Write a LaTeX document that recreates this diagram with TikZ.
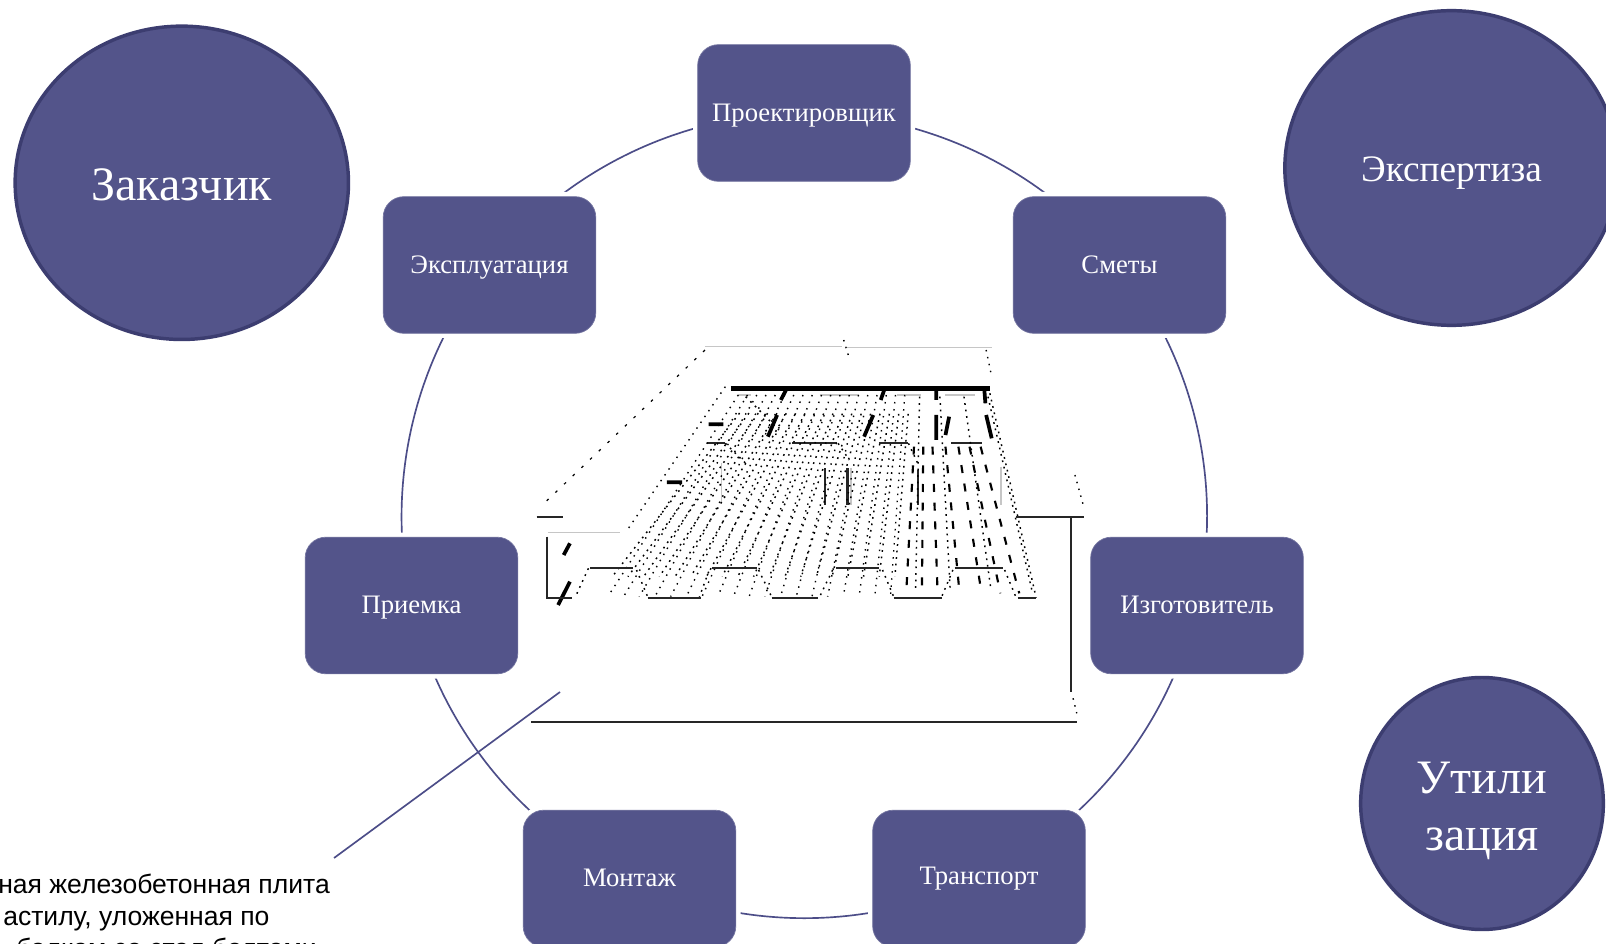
\documentclass[tikz,border=0pt]{standalone}
\usepackage{fontspec}
\setmainfont{Liberation Serif}
\newfontfamily\arialfont{Liberation Sans}
\usetikzlibrary{backgrounds,shapes.geometric}
\definecolor{fillc}{HTML}{53548A}
\definecolor{edgec}{HTML}{3C3D70}
\definecolor{ringc}{HTML}{4C4D88}
\tikzset{
 stagebox/.style={rectangle,rounded corners=15.5pt,fill=fillc,draw=fillc!80!white,line width=.5pt,
   minimum width=159.5pt,minimum height=102.5pt,inner sep=0pt,text=white,font=\fontsize{20}{24}\selectfont,
   text height=16.4pt,text depth=4pt,
   preaction={draw=white,line width=7pt}},
 party/.style={ellipse,fill=fillc,draw=edgec,line width=2.6pt,inner sep=0pt,text=white,align=center},
 ringline/.style={draw=ringc,line width=1.25pt,bend left=25.7,looseness=.895},
 leader/.style={draw=ringc,line width=1.25pt},
 ink/.style={black!85,line width=1.7pt},
 heavy/.style={black,line width=3.4pt},
 pale/.style={gray!45,line width=1pt},
 dotsA/.style={black,line width=1.05pt,dash pattern=on 1.1pt off 4.2pt},
 dotsB/.style={black,line width=1.1pt,dash pattern=on 1.3pt off 3.6pt},
 dotsC/.style={black,line width=1.6pt,dash pattern=on 6pt off 8pt},
 sparse/.style={black,line width=.9pt,dash pattern=on 2pt off 7pt},
 capt/.style={anchor=base west,inner sep=0pt,font=\arialfont\fontsize{19.9}{19.9}\selectfont}
}
\begin{document}
\begin{tikzpicture}[x=.75pt,y=-.75pt]
\useasboundingbox (0,0) rectangle (1606,944);
\begin{pgfonlayer}{background}
\fill[white] (0,0) rectangle (1606,944);
\end{pgfonlayer}
% stages
\node[stagebox] (proj) at (804,113) {Проектировщик};
\node[stagebox] (smet) at (1119.5,265) {Сметы};
\node[stagebox] (izg) at (1197,605.5) {Изготовитель};
\node[stagebox,text depth=7pt] (tran) at (979,878.5) {Транспорт};
\node[stagebox] (mont) at (629.5,878.5) {Монтаж};
\node[stagebox] (prie) at (411.5,605.5) {Приемка};
\node[stagebox] (expl) at (489.5,265) {Эксплуатация};
\begin{pgfonlayer}{background}
\draw[ringline] (proj.center) to (smet.center);
\draw[ringline] (smet.center) to (izg.center);
\draw[ringline] (izg.center) to (tran.center);
\draw[ringline] (tran.center) to (mont.center);
\draw[ringline] (mont.center) to (prie.center);
\draw[ringline] (prie.center) to (expl.center);
\draw[ringline] (expl.center) to (proj.center);
\end{pgfonlayer}
% parties
\node[party,minimum width=250pt,minimum height=235pt,font=\fontsize{36}{42}\selectfont,text height=27pt,text depth=0pt] (zak) at (181.8,182.8) {Заказчик};
\node[party,minimum width=250pt,minimum height=236pt,font=\fontsize{28}{32}\selectfont,text height=27pt,text depth=6pt] (eksp) at (1451.5,168) {Экспертиза};
\node[party,minimum width=182pt,minimum height=189pt,font=\fontsize{36}{43}\selectfont] (util) at (1482,803.5) {\rule{0pt}{35pt}Утили\\зация};
% illustration
\begin{scope}[shift={(520,330)},x=.27747pt,y=-.25pt]
\draw[pale] (500,50)--(870,50) (885,52)--(1275,52) (75,608)--(270,608);
\draw[pale] (545,400)--(545,520) (895,415)--(895,525) (1300,410)--(1300,525);
\draw[pale] (590,195)--(625,195) (810,195)--(915,195) (1020,195)--(1085,195) (1150,195)--(1230,195);
\draw[sparse] (500,60)--(65,520);
\draw[dotsA] (875,30)--(890,85) (1260,60)--(1275,140) (1500,435)--(1525,535) (1495,1105)--(1505,1150);
\draw[dotsA] (555,170)--(290,600);
\draw[heavy] (570,175)--(1270,175);
\draw[black,line width=2.8pt] (720,178)--(705,210) (985,178)--(975,210) (1125,178)--(1125,210) (1255,178)--(1258,220)
 (695,255)--(670,320) (955,255)--(930,320) (1125,255)--(1125,330) (1160,260)--(1150,315) (1260,255)--(1275,325)
 (510,283)--(550,283) (397,457)--(438,457) (135,640)--(118,675) (135,755)--(103,825);
\draw[ink] (505,340)--(555,340) (735,340)--(858,340) (970,340)--(1050,340) (1165,340)--(1250,340);
\draw[ink] (825,415)--(825,525) (885,415)--(885,525) (1075,420)--(1075,525);
% ribs
\foreach \t in {590,615,640,665,690,715,740,765,790,815,840,865,890,915,940,965,990,1015,1040}{
  \pgfmathsetmacro\bx{\t+610*(.2-(1270-\t)*.00114)}
  \draw[dotsA] (\t,195)--(\bx,800);
  \pgfmathsetmacro\bxx{\bx+12}
  \draw[dotsB,dash phase=2pt] (\t+10,240)--(\bxx,740);
}
\foreach \t in {1065,1090,1115,1150,1185,1215,1245}{
  \pgfmathsetmacro\bx{\t+610*(.2-(1270-\t)*.00114)}
  \draw[dotsC] (\t,350)--(\bx,790);
}
\foreach \t in {1080,1135,1200,1265}{
  \pgfmathsetmacro\bx{\t+610*(.2-(1270-\t)*.00114)}
  \draw[dotsB] (\t,200)--(\bx,780);
}
\draw[dotsB] (1270,190)--(1395,803);
% web zigzag
\draw[dotsB] (185,715)--(150,800) (315,720)--(345,800) (510,725)--(485,800) (645,720)--(680,800)
 (845,720)--(810,800) (980,720)--(1010,800) (1170,720)--(1140,800) (1310,720)--(1340,800);
\draw[dotsB] (610,200)--(700,300) (860,340)--(890,390) (555,340)--(610,400) (1050,340)--(1075,400);
% profile
\draw[ink] (73,620)--(73,805)--(140,805);
\draw[ink] (190,715)--(305,715) (520,715)--(640,715) (855,715)--(970,715) (1175,715)--(1305,715);
\draw[ink] (345,803)--(490,803) (680,803)--(805,803) (1010,803)--(1140,803) (1345,803)--(1395,803);
% frame
\draw[ink] (45,562)--(115,562) (1340,562)--(1525,562) (1490,562)--(1490,1085) (30,1175)--(1505,1175);
\end{scope}
% caption
\node[capt] (cap1) at (-2,893) {ная железобетонная плита};
\node[capt] (cap2) at (3,925) {астилу, уложенная по};
\node[capt] (cap3) at (16,957) {балкам со стал болтами};
\coordinate (leadA) at (334,858);
\coordinate (leadB) at (560,692);
\draw[leader] (leadA)--(leadB);
\end{tikzpicture}
\end{document}
